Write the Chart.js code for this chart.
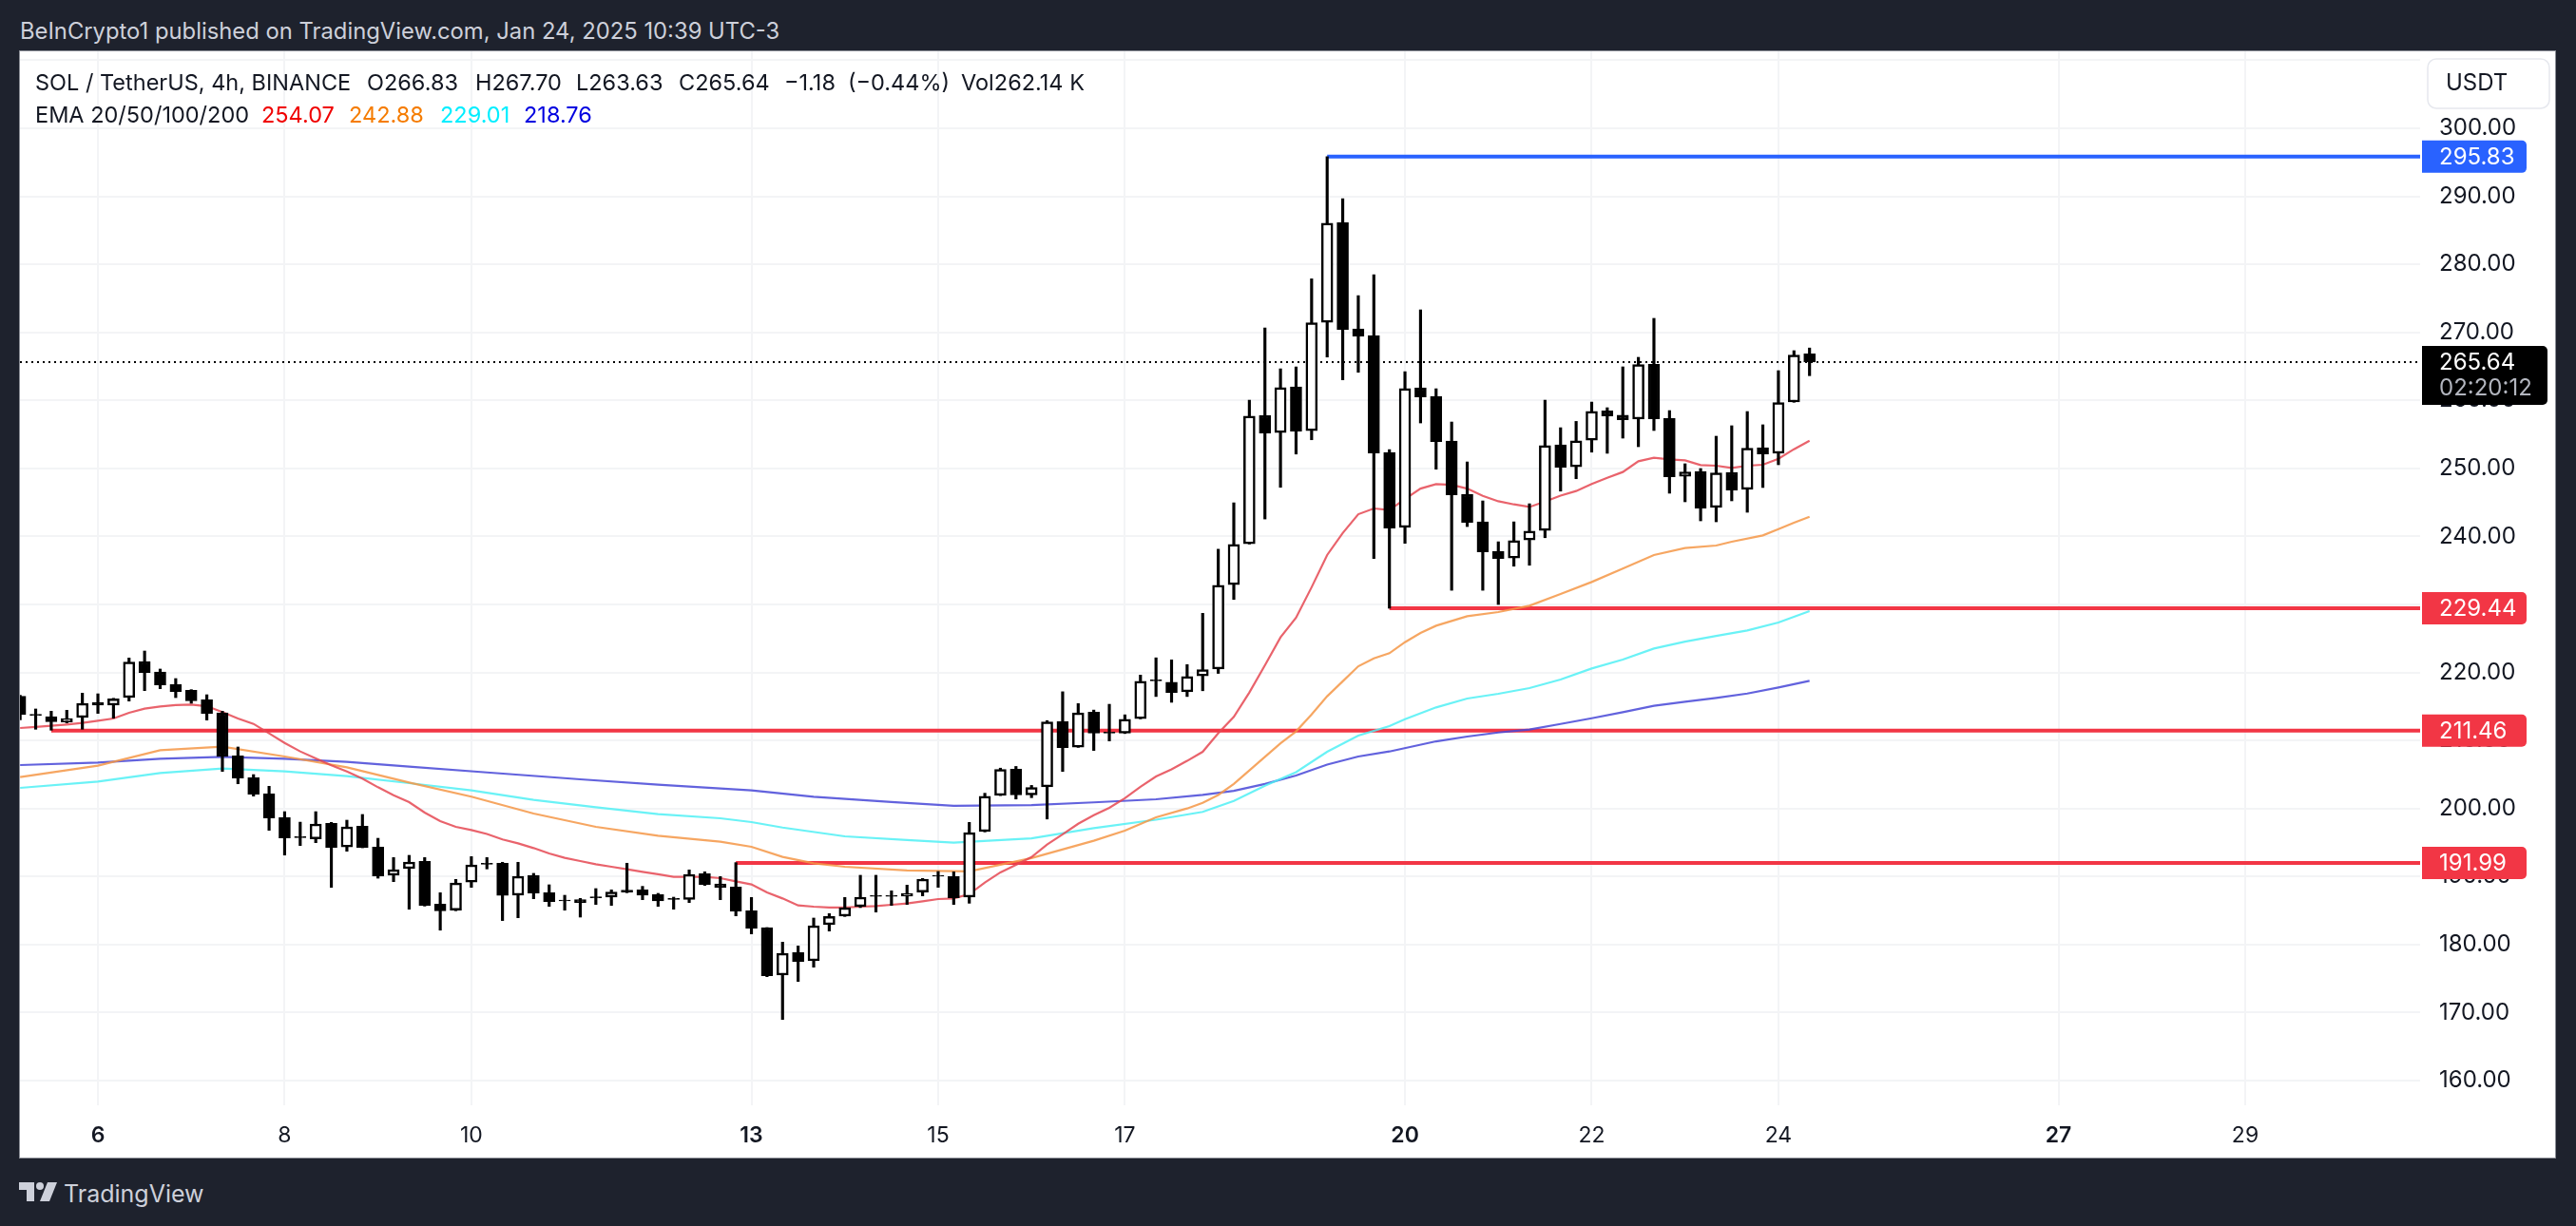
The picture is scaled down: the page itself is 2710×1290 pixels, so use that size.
<!DOCTYPE html>
<html>
<head>
<meta charset="utf-8">
<title>SOL / TetherUS</title>
<script src="https://cdn.jsdelivr.net/npm/chart.js@4"></script>
<style>
    html, body { margin: 0; padding: 0; background: #1e222d; width: 2710px; height: 1290px; overflow: hidden; }
    body { font-family: Inter, "Noto Sans", sans-serif; position: relative; }
    .txt { position: absolute; white-space: nowrap; line-height: 1; }
    #published { left: 21px; top: 21px; font-size: 23.8px; color: #cdd0da; }
    #panel { position: absolute; left: 20px; top: 53px; width: 2669px; height: 1166px; background: #fff; box-sizing: border-box; border: 1px solid #8b8e96; }
    #chart { position: absolute; left: 21px; top: 54px; }
    .leg { font-size: 23.5px; color: #131722; }
    #logoText { left: 67px; top: 1244px; font-size: 25px; color: #cdd0da; }
    #logo { position: absolute; left: 20px; top: 1244px; }
</style>
</head>
<body>
<div class="txt" id="published">BeInCrypto1 published on TradingView.com, Jan 24, 2025 10:39 UTC-3</div>
<div id="panel"></div>
<canvas id="chart" width="2667" height="1164"></canvas>

<div class="txt leg" style="left:37px;top:75px">SOL / TetherUS, 4h, BINANCE</div>
<div class="txt leg" style="left:386px;top:75px">O266.83</div>
<div class="txt leg" style="left:500px;top:75px">H267.70</div>
<div class="txt leg" style="left:606px;top:75px">L263.63</div>
<div class="txt leg" style="left:714px;top:75px">C265.64</div>
<div class="txt leg" style="left:825px;top:75px">−1.18</div>
<div class="txt leg" style="left:892px;top:75px">(−0.44%)</div>
<div class="txt leg" style="left:1011px;top:75px">Vol262.14 K</div>
<div class="txt leg" style="left:37px;top:109px">EMA 20/50/100/200</div>
<div class="txt leg" style="left:275px;top:109px;color:#f00000">254.07</div>
<div class="txt leg" style="left:367px;top:109px;color:#f57c00">242.88</div>
<div class="txt leg" style="left:463px;top:109px;color:#00eeff">229.01</div>
<div class="txt leg" style="left:551px;top:109px;color:#0000e0">218.76</div>

<svg id="logo" width="40" height="20" viewBox="0 0 40 20">
    <path fill="#cdd0da" d="M0 0h16v20h-8V8H0z"/>
    <circle fill="#cdd0da" cx="22" cy="4" r="4"/>
    <path fill="#cdd0da" d="M30 0h10l-8 20H22z"/>
</svg>
<div class="txt" id="logoText">TradingView</div>

<script>
// bars are counted in 4h steps from Jan 6 00:00, the first candle is bar -5
const firstBar = -5;

const opens = [
    216.49,213.84,213.51,212.72,213.37,215.56,215.19,216.30,221.61,220.08,
    218.21,217.37,215.98,214.07,207.73,204.52,202.14,198.65,195.86,195.53,
    197.81,194.36,197.39,194.32,190.17,191.15,192.22,185.93,185.05,189.19,
    191.95,191.95,187.24,190.18,187.61,186.54,186.59,187.01,186.96,187.99,
    188.03,187.33,186.78,186.64,190.41,188.92,188.45,184.96,182.49,175.50,
    178.81,177.60,182.91,184.17,185.56,187.20,187.20,187.10,187.71,190.18,
    189.99,186.97,196.60,201.94,205.78,201.99,203.19,212.77,209.03,214.17,
    211.22,211.07,213.22,218.91,218.56,217.16,219.51,220.51,232.92,238.93,
    257.80,255.28,261.99,255.56,271.49,286.16,270.51,269.53,252.34,241.31,
    261.85,260.59,254.02,246.20,242.14,237.81,236.83,239.49,240.89,253.46,
    250.25,254.16,258.46,257.81,257.25,265.30,257.34,248.82,249.56,244.25,
    249.42,246.91,253.05,252.22,259.76,266.83
];
const closes = [
    213.84,213.70,212.76,213.23,215.47,215.19,216.12,221.52,219.98,218.17,
    217.19,215.84,213.98,207.64,204.47,202.10,198.60,195.67,195.72,197.72,
    194.27,197.30,194.27,190.08,191.01,192.13,185.75,184.96,189.05,191.71,
    191.81,187.20,190.04,187.57,186.31,186.40,186.17,186.87,187.71,187.71,
    187.24,186.40,186.64,190.32,188.83,188.41,184.91,182.40,175.41,178.72,
    177.51,182.77,184.12,185.43,186.96,187.06,187.06,187.52,189.62,190.04,
    186.87,196.45,201.79,205.73,201.99,203.09,212.72,208.93,214.07,211.07,
    211.07,213.12,218.71,218.76,217.06,219.41,220.41,232.83,238.84,257.70,
    255.19,261.89,255.47,271.40,286.07,270.42,269.44,252.25,241.21,261.75,
    260.50,253.93,246.10,242.05,237.72,236.74,239.40,240.79,253.37,250.16,
    254.07,258.40,257.71,257.15,265.26,257.29,248.77,249.47,244.16,249.33,
    246.81,252.96,252.12,259.67,266.66,265.64
];
const highs = [
    216.63,214.63,214.30,214.44,216.96,216.86,216.20,222.13,223.15,220.50,
    219.10,217.47,216.72,214.30,209.04,204.98,203.26,199.53,197.99,199.53,
    197.95,198.28,199.12,195.62,192.78,193.11,192.78,187.61,189.57,192.92,
    192.78,192.09,192.09,190.46,188.78,187.24,186.78,188.22,188.03,191.95,
    188.55,187.52,186.96,190.97,190.69,189.99,192.04,186.92,182.49,180.35,
    179.79,183.89,184.54,186.92,190.18,190.18,187.89,188.73,189.71,190.74,
    190.69,197.95,202.24,205.93,206.18,203.39,212.92,217.16,215.42,214.47,
    215.32,213.77,219.61,222.15,221.85,221.15,228.69,238.12,244.94,260.03,
    270.65,264.64,264.92,277.87,295.83,289.66,275.40,278.48,252.76,264.22,
    273.31,261.71,256.82,250.95,245.22,239.21,242.14,244.80,260.03,255.98,
    256.91,259.75,258.92,264.93,266.33,272.06,258.50,250.68,249.98,254.73,
    256.27,258.36,256.41,264.37,267.31,267.70
];
const lows = [
    213.04,211.65,211.51,212.58,211.65,213.98,213.28,215.79,217.33,217.61,
    216.30,215.47,213.00,205.45,203.63,201.82,196.79,193.15,194.55,194.97,
    188.40,193.71,194.22,189.75,189.24,185.19,185.65,182.11,184.96,188.40,
    191.11,183.52,183.93,186.73,185.61,185.05,184.03,185.89,185.75,187.61,
    186.59,185.61,185.19,186.17,188.69,186.59,184.21,181.56,175.27,168.98,
    174.57,176.67,181.98,184.12,185.43,184.77,185.75,185.89,187.15,188.41,
    185.89,186.07,196.55,201.89,201.39,201.59,198.45,205.44,208.98,208.53,
    209.93,211.02,213.17,216.46,215.61,216.46,217.31,219.86,230.73,238.88,
    242.56,247.22,252.11,254.21,266.37,263.01,264.13,236.74,229.44,238.98,
    256.68,249.88,232.08,241.45,232.08,229.99,235.62,235.76,239.81,246.66,
    248.48,252.39,252.22,254.45,253.19,255.57,246.35,245.09,242.29,242.15,
    245.23,243.55,247.19,250.54,259.72,263.63
];

// EMA 20 has one value per candle, the slower ones are read at fewer bars
const ema20 = [
    211.83,212.00,212.16,212.35,212.58,212.90,213.23,214.07,214.67,215.00,
    215.19,215.28,215.04,214.16,213.23,212.44,211.04,209.64,208.39,207.36,
    206.34,205.45,204.38,203.12,201.96,200.93,199.40,198.14,197.30,196.83,
    196.25,195.44,194.88,194.18,193.39,192.74,192.27,191.81,191.43,191.06,
    190.69,190.32,189.94,189.94,189.94,189.76,189.29,188.83,187.66,186.77,
    185.75,185.56,185.43,185.43,185.56,185.65,185.84,186.03,186.36,186.68,
    186.77,187.40,189.10,190.60,191.70,192.86,194.71,196.20,197.75,199.00,
    200.10,201.50,203.20,204.70,205.75,207.00,208.33,211.07,213.47,217.06,
    221.05,225.15,228.04,232.53,237.27,240.50,243.26,244.11,243.87,245.50,
    247.03,247.69,247.59,247.03,245.96,245.17,244.71,244.33,245.13,246.00,
    246.67,247.70,248.63,249.47,251.05,251.56,251.33,251.19,250.49,250.40,
    250.07,250.40,250.54,251.42,252.82,254.07
];
const ema50Bars = [-5,0,4,8,12,16,20,24,28,32,36,40,42,44,46,48,52,56,60,64,66,68,70,71,72,73,74,75,76,77,78,79,80,81,82,83,84,85,86,88,90,92,94,96,98,100,102,104,105,107,108,109,110];
const ema50 = [204.61,206.29,208.57,209.08,207.64,206.06,203.82,201.73,199.26,197.30,196.00,195.11,194.37,192.88,191.95,191.43,190.88,190.75,192.70,195.26,196.75,198.70,200.00,200.84,201.99,203.60,205.60,207.58,209.58,211.33,213.82,216.50,218.70,220.91,222.07,222.82,224.45,225.80,226.87,228.27,228.88,229.81,231.53,233.30,235.26,237.26,238.29,238.66,239.22,240.15,241.08,242.00,242.88];
const ema100Bars = [-5,0,4,8,12,16,20,24,28,32,36,40,42,44,48,52,55,60,64,68,71,73,75,77,79,81,83,84,86,88,90,92,94,96,98,100,102,104,106,108,110];
const ema100 = [203.03,203.96,205.22,205.87,205.45,204.75,203.73,202.66,201.26,200.19,199.17,198.56,198.00,197.20,195.90,195.35,194.97,195.60,197.10,198.35,199.50,201.10,203.34,205.34,208.33,210.71,212.11,213.13,214.86,216.16,216.86,217.70,218.95,220.58,221.89,223.52,224.54,225.38,226.17,227.34,229.01];
const ema200Bars = [-5,0,4,8,12,16,20,25,31,36,42,46,51,55,60,64,68,71,73,75,77,79,81,83,86,88,90,92,94,96,98,100,102,104,106,108,110];
const ema200 = [206.38,206.76,207.31,207.60,207.31,206.85,206.15,205.30,204.29,203.50,202.66,201.73,200.94,200.38,200.50,200.90,201.35,202.00,202.60,203.60,204.84,206.45,207.64,208.38,209.87,210.57,211.17,211.60,212.43,213.27,214.16,215.09,215.69,216.25,216.90,217.79,218.76];

const levelPrices = [295.83, 229.44, 211.46, 191.99];
const levelBars = [79, 83, -3, 41];
const levelColors = ['#2962ff', '#f23645', '#f23645', '#f23645'];
const lastPrice = 265.64;
const countdown = '02:20:12';

const dayBars = [0, 12, 24, 42, 54, 66, 84, 96, 108, 126, 138];
const dayLabels = ['6', '8', '10', '13', '15', '17', '20', '22', '24', '27', '29'];
const boldDays = ['6', '13', '20', '27'];
const priceTicks = [160, 170, 180, 190, 200, 210, 220, 230, 240, 250, 260, 270, 280, 290, 300, 310];

const xMin = -5.01;
const xMax = 149.24;
const yMin = 156.36;
const yMax = 311.32;

const pts = (bars, vals) => bars.map((b, i) => ({ x: b, y: vals[i] }));
const candleBars = opens.map((_, i) => firstBar + i);
const fontFamily = 'Inter, "Noto Sans", sans-serif';

const datasets = [];

// candles are on top of everything, lower order is drawn last
datasets.push({
    type: 'bar',
    order: 1,
    data: candleBars.map((b, i) => ({ x: b, y: [opens[i], closes[i]] })),
    backgroundColor: opens.map((o, i) => closes[i] >= o ? '#ffffff' : '#000000'),
    borderColor: '#000000',
    borderWidth: 2.5,
    borderSkipped: false,
    barThickness: 12,
    grouped: false
});
datasets.push({
    type: 'bar',
    order: 2,
    data: candleBars.map((b, i) => ({ x: b, y: [lows[i], highs[i]] })),
    backgroundColor: '#000000',
    borderWidth: 0,
    barThickness: 2.5,
    grouped: false
});

const addLine = (data, color, width, order, dash) => datasets.push({
    type: 'line', order, data, borderColor: color, borderWidth: width,
    borderDash: dash || [], pointRadius: 0, tension: 0, fill: false
});
addLine(pts(candleBars, ema20), 'rgba(229,72,82,0.85)', 2.2, 3);
addLine(pts(ema50Bars, ema50), 'rgba(245,150,70,0.85)', 2.2, 4);
addLine(pts(ema100Bars, ema100), 'rgba(80,240,245,0.85)', 2.2, 5);
addLine(pts(ema200Bars, ema200), 'rgba(70,70,215,0.85)', 2.2, 6);
levelPrices.forEach((p, i) => {
    addLine([{ x: levelBars[i], y: p }, { x: xMax, y: p }], levelColors[i], 4, 7);
});
addLine([{ x: xMin, y: lastPrice }, { x: xMax, y: lastPrice }], '#000000', 2, 8, [2, 4]);

const roundBox = (ctx, x, y, w, h, r) => {
    ctx.beginPath();
    ctx.roundRect(x, y, w, h, r);
    ctx.fill();
};

// price tags and the currency button sit over the axis
const tagsPlugin = {
    id: 'tags',
    afterDraw(chart) {
        const ctx = chart.ctx;
        const yScale = chart.scales.y;
        const left = chart.chartArea.right + 2;
        ctx.save();
        ctx.textBaseline = 'middle';
        ctx.textAlign = 'left';
        ctx.font = '24px ' + fontFamily;
        levelPrices.forEach((p, i) => {
            const y = yScale.getPixelForValue(p);
            ctx.fillStyle = levelColors[i];
            roundBox(ctx, left, y - 17, 110, 34, [0, 5, 5, 0]);
            ctx.fillStyle = '#ffffff';
            ctx.fillText(p.toFixed(2), left + 18, y + 1);
        });
        const yLast = yScale.getPixelForValue(lastPrice);
        ctx.fillStyle = '#000000';
        roundBox(ctx, left, yLast - 17, 132, 62, [0, 5, 5, 0]);
        ctx.fillStyle = '#ffffff';
        ctx.fillText(lastPrice.toFixed(2), left + 18, yLast + 1);
        ctx.fillStyle = '#b2b5be';
        ctx.fillText(countdown, left + 18, yLast + 28);

        ctx.strokeStyle = '#e6e8ee';
        ctx.lineWidth = 1.5;
        ctx.beginPath();
        ctx.roundRect(2533, 8, 128, 52, 9);
        ctx.stroke();
        ctx.fillStyle = '#131722';
        ctx.fillText('USDT', 2552, 34);
        ctx.restore();
    }
};

new Chart(document.getElementById('chart'), {
    data: { datasets },
    plugins: [tagsPlugin],
    options: {
        responsive: false,
        animation: false,
        devicePixelRatio: 1,
        layout: { autoPadding: false, padding: 0 },
        plugins: { legend: { display: false }, tooltip: { enabled: false } },
        scales: {
            x: {
                type: 'linear',
                min: xMin,
                max: xMax,
                offset: false,
                afterBuildTicks: s => { s.ticks = dayBars.map(v => ({ value: v })); },
                afterFit: s => { s.height = 55; s.paddingLeft = 0; s.paddingRight = 0; },
                grid: { color: '#f3f4f6', lineWidth: 2, drawTicks: false, offset: false },
                border: { display: false },
                ticks: {
                    autoSkip: false,
                    maxRotation: 0,
                    padding: 18,
                    color: '#131722',
                    font: ctx => ({
                        family: fontFamily,
                        size: 23,
                        weight: ctx.tick && boldDays.includes(dayLabels[dayBars.indexOf(ctx.tick.value)]) ? '600' : '400'
                    }),
                    callback: v => dayLabels[dayBars.indexOf(v)]
                }
            },
            y: {
                position: 'right',
                min: yMin,
                max: yMax,
                afterBuildTicks: s => { s.ticks = priceTicks.map(v => ({ value: v })); },
                afterFit: s => { s.width = 2667 - 2525; s.paddingTop = 0; s.paddingBottom = 0; },
                grid: { color: '#f3f4f6', lineWidth: 2, drawTicks: false },
                border: { display: false },
                ticks: {
                    autoSkip: false,
                    padding: 20,
                    color: '#131722',
                    font: { family: fontFamily, size: 24 },
                    callback: v => v === 310 ? '' : v.toFixed(2)
                }
            }
        }
    }
});
</script>
</body>
</html>
